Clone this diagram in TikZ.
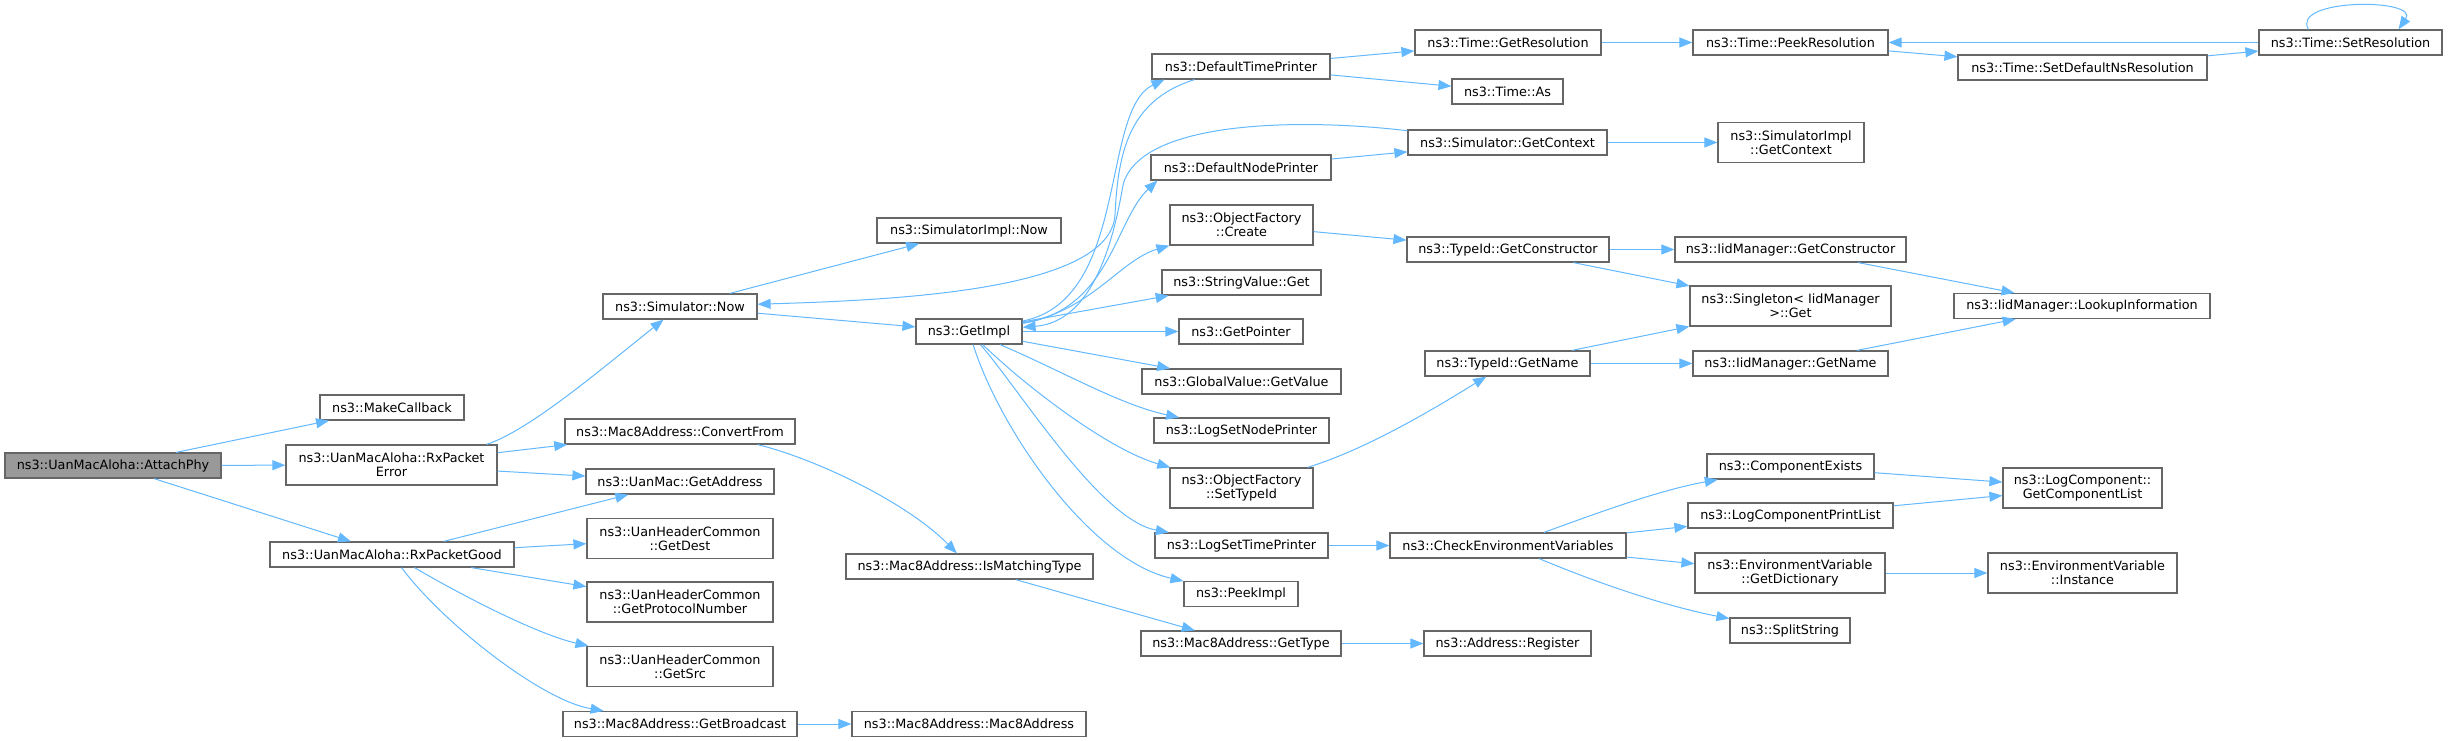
\documentclass[tikz,border=0pt]{standalone}
\usepackage{fontspec}
\setmainfont{DejaVu Sans}
\usetikzlibrary{arrows,arrows.meta}
\definecolor{callblue}{HTML}{63B8FF}
\definecolor{boxgray}{HTML}{666666}
\definecolor{focusgray}{HTML}{999999}

\begin{document}
\begin{tikzpicture}[x=1pt,y=-1pt,
  fn/.style={draw=boxgray,fill=white,line width=1.2pt,inner sep=0pt,align=center,
    font=\fontsize{12.8}{14}\selectfont},
  call/.style={draw=callblue,line width=1pt,-{Triangle[length=13pt,width=10pt]}}]

\useasboundingbox (0,0) rectangle (2448,741);

\node[fn,fill=focusgray,minimum width=216pt,minimum height=25pt] (attachphy) at (113,465.5) {ns3::UanMacAloha::AttachPhy};
\node[fn,minimum width=144pt,minimum height=25pt] (makecb) at (392,407.5) {ns3::MakeCallback};
\node[fn,minimum width=211pt,minimum height=40pt] (rxerror) at (391.5,465) {ns3::UanMacAloha::RxPacket\\Error};
\node[fn,minimum width=244pt,minimum height=25pt] (rxgood) at (392,554.5) {ns3::UanMacAloha::RxPacketGood};

\node[fn,minimum width=154pt,minimum height=25pt] (simnow) at (680,306.5) {ns3::Simulator::Now};
\node[fn,minimum width=230pt,minimum height=25pt] (convfrom) at (680,431.5) {ns3::Mac8Address::ConvertFrom};
\node[fn,minimum width=188pt,minimum height=25pt] (getaddr) at (680,481.5) {ns3::UanMac::GetAddress};
\node[fn,minimum width=186pt,minimum height=40pt] (getdest) at (680,538.5) {ns3::UanHeaderCommon\\::GetDest};
\node[fn,minimum width=186pt,minimum height=40pt] (getproto) at (680,602) {ns3::UanHeaderCommon\\::GetProtocolNumber};
\node[fn,minimum width=186pt,minimum height=40pt] (getsrc) at (680,666.5) {ns3::UanHeaderCommon\\::GetSrc};
\node[fn,minimum width=234pt,minimum height=25pt] (getbcast) at (680,724) {ns3::Mac8Address::GetBroadcast};

\node[fn,minimum width=184pt,minimum height=25pt] (simimplnow) at (969,230.5) {ns3::SimulatorImpl::Now};
\node[fn,minimum width=106pt,minimum height=25pt] (getimpl) at (969,331.5) {ns3::GetImpl};
\node[fn,minimum width=247pt,minimum height=25pt] (ismatch) at (969.5,566.5) {ns3::Mac8Address::IsMatchingType};
\node[fn,minimum width=234pt,minimum height=25pt] (mac8) at (969,724) {ns3::Mac8Address::Mac8Address};

\node[fn,minimum width=178pt,minimum height=25pt] (dtp) at (1241,66.5) {ns3::DefaultTimePrinter};
\node[fn,minimum width=180pt,minimum height=25pt] (dnp) at (1241,167.5) {ns3::DefaultNodePrinter};
\node[fn,minimum width=143pt,minimum height=40pt] (create) at (1241.5,225) {ns3::ObjectFactory\\::Create};
\node[fn,minimum width=159pt,minimum height=25pt] (strget) at (1241.5,282.5) {ns3::StringValue::Get};
\node[fn,minimum width=124pt,minimum height=25pt] (getptr) at (1241,331.5) {ns3::GetPointer};
\node[fn,minimum width=199pt,minimum height=25pt] (gvalue) at (1241.5,381.5) {ns3::GlobalValue::GetValue};
\node[fn,minimum width=175pt,minimum height=25pt] (lsnp) at (1241.5,430.5) {ns3::LogSetNodePrinter};
\node[fn,minimum width=143pt,minimum height=40pt] (settypeid) at (1241.5,488) {ns3::ObjectFactory\\::SetTypeId};
\node[fn,minimum width=173pt,minimum height=25pt] (lstp) at (1241.5,545.5) {ns3::LogSetTimePrinter};
\node[fn,minimum width=114pt,minimum height=25pt] (peekimpl) at (1241,594) {ns3::PeekImpl};
\node[fn,minimum width=200pt,minimum height=25pt] (gettype) at (1241,643.5) {ns3::Mac8Address::GetType};

\node[fn,minimum width=186pt,minimum height=25pt] (getres) at (1508,42.5) {ns3::Time::GetResolution};
\node[fn,minimum width=111pt,minimum height=25pt] (timeas) at (1507.5,91.5) {ns3::Time::As};
\node[fn,minimum width=199pt,minimum height=25pt] (gctx) at (1507.5,142.5) {ns3::Simulator::GetContext};
\node[fn,minimum width=202pt,minimum height=25pt] (getctor) at (1508,249.5) {ns3::TypeId::GetConstructor};
\node[fn,minimum width=165pt,minimum height=25pt] (getname) at (1507.5,363.5) {ns3::TypeId::GetName};
\node[fn,minimum width=236pt,minimum height=25pt] (checkenv) at (1508,545.5) {ns3::CheckEnvironmentVariables};
\node[fn,minimum width=167pt,minimum height=25pt] (addrreg) at (1507.5,643.5) {ns3::Address::Register};

\node[fn,minimum width=195pt,minimum height=25pt] (peekres) at (1790.5,42.5) {ns3::Time::PeekResolution};
\node[fn,minimum width=146pt,minimum height=40pt] (implctx) at (1791,142.5) {ns3::SimulatorImpl\\::GetContext};
\node[fn,minimum width=231pt,minimum height=25pt] (iidctor) at (1790.5,249.5) {ns3::IidManager::GetConstructor};
\node[fn,minimum width=201pt,minimum height=40pt] (singleton) at (1790.5,306) {ns3::Singleton< IidManager\\ >::Get};
\node[fn,minimum width=195pt,minimum height=25pt] (iidname) at (1790.5,363.5) {ns3::IidManager::GetName};
\node[fn,minimum width=167pt,minimum height=25pt] (compexists) at (1790.5,466.5) {ns3::ComponentExists};
\node[fn,minimum width=205pt,minimum height=25pt] (printlist) at (1790.5,515.5) {ns3::LogComponentPrintList};
\node[fn,minimum width=190pt,minimum height=40pt] (getdict) at (1790,573) {ns3::EnvironmentVariable\\::GetDictionary};
\node[fn,minimum width=120pt,minimum height=25pt] (splitstr) at (1790,630.5) {ns3::SplitString};

\node[fn,minimum width=249pt,minimum height=25pt] (setdefns) at (2082.5,67.5) {ns3::Time::SetDefaultNsResolution};
\node[fn,minimum width=256pt,minimum height=25pt] (lookup) at (2082,306) {ns3::IidManager::LookupInformation};
\node[fn,minimum width=159pt,minimum height=40pt] (complist) at (2082.5,488) {ns3::LogComponent::\\GetComponentList};
\node[fn,minimum width=189pt,minimum height=40pt] (envinst) at (2082.5,573) {ns3::EnvironmentVariable\\::Instance};
\node[fn,minimum width=183pt,minimum height=25pt] (setres) at (2350.5,42.5) {ns3::Time::SetResolution};

\draw[call] (attachphy) -- (makecb);
\draw[call] (attachphy) -- (rxerror);
\draw[call] (attachphy) -- (rxgood);
\draw[call] ([xshift=-11pt]rxerror.north east) .. controls (530,430) and (600,370) .. (simnow);
\draw[call] (rxerror) -- (convfrom);
\draw[call] (rxerror) -- (getaddr);
\draw[call] (rxgood) -- (getaddr);
\draw[call] (rxgood) -- (getdest);
\draw[call] (rxgood) -- (getproto);
\draw[call] (rxgood) .. controls (470,600) and (540,635) .. (getsrc);
\draw[call] (rxgood) .. controls (440,620) and (540,700) .. (getbcast);
\draw[call] (simnow) -- (simimplnow);
\draw[call] (simnow) -- (getimpl);
\draw[call] ([xshift=-38pt]convfrom.south east) .. controls (820,460) and (910,505) .. (ismatch);
\draw[call] (getbcast) -- (mac8);
\draw[call] (ismatch) -- (gettype);

\draw[call] (getimpl) .. controls (1130,300) and (1100,110) .. ([xshift=13pt]dtp.south west);
\draw[call] (getimpl) .. controls (1110,310) and (1115,220) .. ([xshift=7pt]dnp.south west);
\draw[call] (getimpl) .. controls (1090,312) and (1120,260) .. (create.south west);
\draw[call] (getimpl) -- (strget);
\draw[call] (getimpl) -- (getptr);
\draw[call] (getimpl) -- (gvalue);
\draw[call] (getimpl) .. controls (1060,370) and (1120,405) .. (lsnp);
\draw[call] (getimpl) .. controls (1030,390) and (1110,450) .. (settypeid);
\draw[call] (getimpl) .. controls (1020,390) and (1100,520) .. (lstp);
\draw[call] (getimpl) .. controls (1000,430) and (1090,560) .. (peekimpl);

\draw[call] ([xshift=43pt]dtp.south west) .. controls (1130,100) and (1118,150) .. (1115,215)
  .. controls (1110,290) and (900,300) .. (simnow);
\draw[call] (dtp) -- (getres);
\draw[call] (dtp) -- (timeas);
\draw[call] (dnp) -- (gctx);
\draw[call] (create) -- (getctor);
\draw[call] (settypeid) .. controls (1370,448) and (1440,405) .. (getname);
\draw[call] (lstp) -- (checkenv);
\draw[call] (gettype) -- (addrreg);

\draw[call] (getres) -- (peekres);
\draw[call] (gctx) -- (implctx);
\draw[call] (gctx) .. controls (1300,118) and (1140,120) .. (1123,185)
  .. controls (1112,250) and (1090,322) .. (getimpl);
\draw[call] (getctor) -- (iidctor);
\draw[call] (getctor) -- (singleton);
\draw[call] (getname) -- (singleton);
\draw[call] (getname) -- (iidname);
\draw[call] (checkenv) .. controls (1600,512) and (1660,490) .. (compexists);
\draw[call] (checkenv) -- (printlist);
\draw[call] (checkenv) -- (getdict);
\draw[call] (checkenv) .. controls (1590,580) and (1660,605) .. (splitstr);

\draw[call] (peekres) -- (setdefns);
\draw[call] (setdefns) -- (setres);
\draw[call] (setres) -- (peekres);
\draw[call] ([xshift=-42pt]setres.north) .. controls (2290,-2) and (2420,-2) .. ([xshift=48pt]setres.north);
\draw[call] (iidctor) -- (lookup);
\draw[call] (iidname) -- (lookup);
\draw[call] (compexists) -- (complist);
\draw[call] (printlist) -- (complist);
\draw[call] (getdict) -- (envinst);
\end{tikzpicture}
\end{document}
